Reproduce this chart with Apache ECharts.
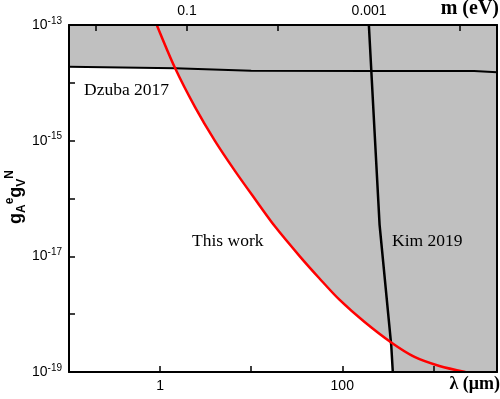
<!DOCTYPE html>
<html>
<head>
<meta charset="utf-8">
<script src="https://cdn.jsdelivr.net/npm/echarts@6/dist/echarts.min.js"></script>
<style>
  html, body { margin: 0; padding: 0; background: #fff; }
  #main { width: 500px; height: 399px; }
</style>
</head>
<body>
<div id="main"></div>
<script>
// axis ranges (lambda in um, coupling g_A^e g_V^N)
var xRange = [0.1, 5000];
var yRange = [1e-19, 1e-13];
var HBARC = 0.19733; // eV*um, m = hbar c / lambda

// tick labels that are printed
var bottomLabels = [1, 100];
var topLabels = [0.1, 0.001];
var yLabelExps = [-13, -15, -17, -19];

// curves [lambda (um), g]
var thisWork = [
  [0.92, 1e-13], [1.46, 1.8e-14], [2.42, 3.8e-15], [4.0, 9.9e-16],
  [6.63, 3.0e-16], [11.0, 9.8e-17], [18.2, 3.3e-17], [34.2, 1.0e-17],
  [56.6, 4.1e-18], [93.7, 1.76e-18], [176, 7.3e-19], [348, 3.2e-19],
  [621, 1.82e-19], [1166, 1.27e-19], [2247, 1e-19]
];
var dzuba = [
  [0.1, 1.9e-14], [1.46, 1.78e-14], [10, 1.62e-14], [200, 1.6e-14],
  [2800, 1.6e-14], [5000, 1.52e-14]
];
var kim = [
  [196, 1e-13], [226, 1.5e-15], [257, 3.5e-17], [345, 2.9e-19], [359, 1e-19]
];

var chart = echarts.init(document.getElementById('main'));

function isDecade(v, list) {
  for (var i = 0; i < list.length; i++) {
    if (Math.abs(Math.log10(v) - Math.log10(list[i])) < 1e-6) return true;
  }
  return false;
}

var tickStyle = { show: true, inside: true, length: 6, lineStyle: { color: '#000', width: 1.5 } };
var lineAxis = { show: true, lineStyle: { color: '#000', width: 2 } };
var labelFont = { color: '#000', fontFamily: 'Liberation Sans', fontSize: 14 };
var serif = '"Liberation Serif", "Times New Roman", serif';

function fillSeries(data) {
  return {
    type: 'line', data: data, showSymbol: false, silent: true,
    xAxisIndex: 0, yAxisIndex: 0,
    lineStyle: { width: 0 },
    areaStyle: { color: '#c0c0c0', opacity: 1, origin: 'end' },
    z: 1
  };
}

var option = {
  animation: false,
  grid: { left: 69, right: 2, top: 25, bottom: 27 },
  xAxis: [{
    type: 'log', min: xRange[0], max: xRange[1], position: 'bottom', z: 5,
    axisLine: lineAxis, axisTick: tickStyle, splitLine: { show: false },
    axisLabel: Object.assign({
      margin: 7,
      formatter: function (v) { return isDecade(v, bottomLabels) ? String(Math.round(v)) : ''; }
    }, labelFont)
  }, {
    // mass axis on top, m = hbar c / lambda
    type: 'log', min: HBARC / xRange[1], max: HBARC / xRange[0], inverse: true,
    position: 'top', z: 5,
    axisLine: lineAxis, axisTick: tickStyle, splitLine: { show: false },
    axisLabel: Object.assign({
      margin: 7,
      formatter: function (v) {
        if (!isDecade(v, topLabels)) return '';
        return Math.abs(Math.log10(v) + 1) < 1e-6 ? '0.1' : '0.001';
      }
    }, labelFont)
  }],
  yAxis: [{
    type: 'log', min: yRange[0], max: yRange[1], position: 'left', z: 5,
    axisLine: lineAxis, axisTick: tickStyle, splitLine: { show: false },
    axisLabel: {
      margin: 7,
      formatter: function (v) {
        var e = Math.round(Math.log10(v));
        return yLabelExps.indexOf(e) >= 0 ? '{b|10}{s|' + e + '}' : '';
      },
      rich: {
        b: { fontFamily: 'Liberation Sans', fontSize: 14, lineHeight: 18, color: '#000' },
        s: { fontFamily: 'Liberation Sans', fontSize: 10, lineHeight: 10, verticalAlign: 'top', color: '#000' }
      }
    }
  }, {
    type: 'log', min: yRange[0], max: yRange[1], position: 'right', z: 5,
    axisLine: lineAxis, axisTick: { show: false }, axisLabel: { show: false },
    splitLine: { show: false }
  }],
  graphic: [
    { type: 'text', left: 84, top: 81, z: 10, style: { text: 'Dzuba 2017', font: '17.5px ' + serif, fill: '#000' } },
    { type: 'text', left: 192, top: 232, z: 10, style: { text: 'This work', font: '17.5px ' + serif, fill: '#000' } },
    { type: 'text', left: 392, top: 232, z: 10, style: { text: 'Kim 2019', font: '17.5px ' + serif, fill: '#000' } },
    { type: 'text', right: 1, top: -1, z: 10, style: { text: 'm (eV)', font: 'bold 20px ' + serif, fill: '#000' } },
    { type: 'text', right: 0, top: 375, z: 10, style: { text: 'λ (μm)', font: 'bold 18px ' + serif, fill: '#000' } },
    {
      type: 'text', x: 16, y: 197, rotation: Math.PI / 2, z: 10,
      style: {
        text: '{g|g}{d|A}{u|e}{g|g}{d|V}{u|N}',
        align: 'center', verticalAlign: 'middle',
        rich: {
          g: { font: 'bold 18px "Liberation Sans"', lineHeight: 24, fill: '#000' },
          d: { font: 'bold 12px "Liberation Sans"', lineHeight: 12, verticalAlign: 'bottom', fill: '#000' },
          u: { font: 'bold 12px "Liberation Sans"', lineHeight: 12, verticalAlign: 'top', fill: '#000' }
        }
      }
    }
  ],
  series: [
    fillSeries(dzuba),
    Object.assign(fillSeries(thisWork), { smooth: 0.3 }),
    fillSeries(kim.concat([[xRange[1], yRange[0]]])),
    {
      name: 'Dzuba 2017', type: 'line', data: dzuba, showSymbol: false, z: 3,
      lineStyle: { color: '#000', width: 2 }
    },
    {
      name: 'Kim 2019', type: 'line', data: kim, showSymbol: false, z: 3,
      lineStyle: { color: '#000', width: 2.5 }
    },
    {
      name: 'This work', type: 'line', data: thisWork, showSymbol: false, smooth: 0.3, z: 4,
      lineStyle: { color: '#ff0000', width: 2.5 }
    }
  ]
};

chart.setOption(option);
</script>
</body>
</html>
